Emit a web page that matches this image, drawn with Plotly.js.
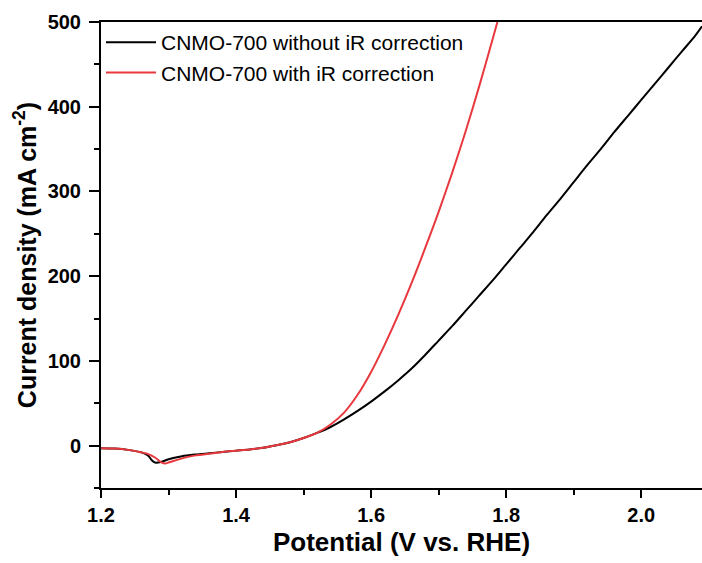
<!DOCTYPE html>
<html>
<head>
<meta charset="utf-8">
<script src="https://cdn.plot.ly/plotly-3.0.1.min.js"></script>
<style>html,body{margin:0;padding:0;background:#fff;}#chart{width:702px;height:563px;}</style>
</head>
<body>
<div id="chart"></div>
<script>
// Potential (V vs. RHE) and current density (mA cm^-2)
const potentialNoIR = [1.20,1.22,1.24,1.26,1.27,1.275,1.28,1.29,1.30,1.32,1.34,1.36,1.38,1.40,1.42,1.44,1.46,1.48,1.50,1.52,1.54,1.56,1.58,1.60,1.62,1.64,1.66,1.68,1.70,1.72,1.74,1.76,1.78,1.80,1.82,1.84,1.86,1.88,1.90,1.92,1.94,1.96,1.98,2.00,2.02,2.04,2.06,2.08,2.09];
const currentNoIR   = [-3,-3.5,-5,-8,-12,-17,-20,-19,-16,-12.5,-10.5,-9,-7.5,-6,-4.5,-2.5,0.5,4,9,15,22,31,41,52,64,77,91,107,124,141,159,177,195,214,233,252,272,291,311,331,350,370,389,408,427,446,465,484,495];

const potentialIR = [1.20,1.22,1.24,1.26,1.27,1.28,1.29,1.295,1.30,1.32,1.34,1.36,1.38,1.40,1.42,1.44,1.46,1.48,1.50,1.52,1.54,1.56,1.58,1.60,1.62,1.64,1.66,1.68,1.70,1.72,1.74,1.76,1.78,1.787];
const currentIR   = [-3,-3.5,-5,-8,-10,-14,-20,-21,-20,-15,-11.5,-9.5,-7.5,-6,-4.5,-2.5,0.5,4,9,15,25,39,60,87,119,154,192,233,276,322,371,424,480,500];

const seriesNames = ['CNMO-700 without iR correction','CNMO-700 with iR correction'];
const xTickVals = [1.2,1.4,1.6,1.8,2.0];
const xTickText = ['1.2','1.4','1.6','1.8','2.0'];
const yTickVals = [0,100,200,300,400,500];

const traces = [
  {x: potentialNoIR, y: currentNoIR, name: seriesNames[0], type: 'scatter', mode: 'lines',
   line: {color: '#000000', width: 2, shape: 'spline', smoothing: 0.8}},
  {x: potentialIR, y: currentIR, name: seriesNames[1], type: 'scatter', mode: 'lines',
   line: {color: '#e8383d', width: 2, shape: 'spline', smoothing: 0.8}}
];

const FONT = 'Liberation Sans, Arial, sans-serif';

const layout = {
  width: 702, height: 563,
  margin: {l: 101, r: 0, t: 22, b: 75, pad: 0},
  paper_bgcolor: '#ffffff', plot_bgcolor: '#ffffff',
  font: {family: FONT, color: '#000'},
  showlegend: true,
  legend: {x: 0.0, y: 1.0, xanchor: 'left', yanchor: 'top', bgcolor: 'rgba(0,0,0,0)',
           font: {size: 21, family: FONT, color: '#000'},
           itemwidth: 50, tracegroupgap: 0},
  xaxis: {
    range: [1.2, 2.09], tickvals: xTickVals, ticktext: xTickText,
    showgrid: false, zeroline: false, showline: true, linecolor: '#000', linewidth: 2,
    mirror: true, ticks: 'outside', ticklen: 8, tickwidth: 2, tickcolor: '#000',
    tickfont: {size: 20, family: FONT, weight: 'bold'},
    minor: {dtick: 0.1, tick0: 1.3, ticks: 'outside', ticklen: 5, tickwidth: 2, tickcolor: '#000', showgrid: false},
    title: {text: '<b>Potential (V vs. RHE)</b>', standoff: 8,
            font: {size: 26, family: FONT}}
  },
  yaxis: {
    range: [-50, 500], tickvals: yTickVals,
    showgrid: false, zeroline: false, showline: true, linecolor: '#000', linewidth: 2,
    mirror: false, ticks: 'outside', ticklen: 10, tickwidth: 2, tickcolor: '#000',
    ticklabelstandoff: 4,
    tickfont: {size: 20, family: FONT, weight: 'bold'},
    minor: {dtick: 100, tick0: -50, ticks: 'outside', ticklen: 5, tickwidth: 2, tickcolor: '#000', showgrid: false},
    title: {text: '<b>Current density (mA cm<sup>-2</sup>)</b>', standoff: 4,
            font: {size: 25, family: FONT}}
  }
};

Plotly.newPlot('chart', traces, layout, {staticPlot: true, displayModeBar: false});
</script>
</body>
</html>
